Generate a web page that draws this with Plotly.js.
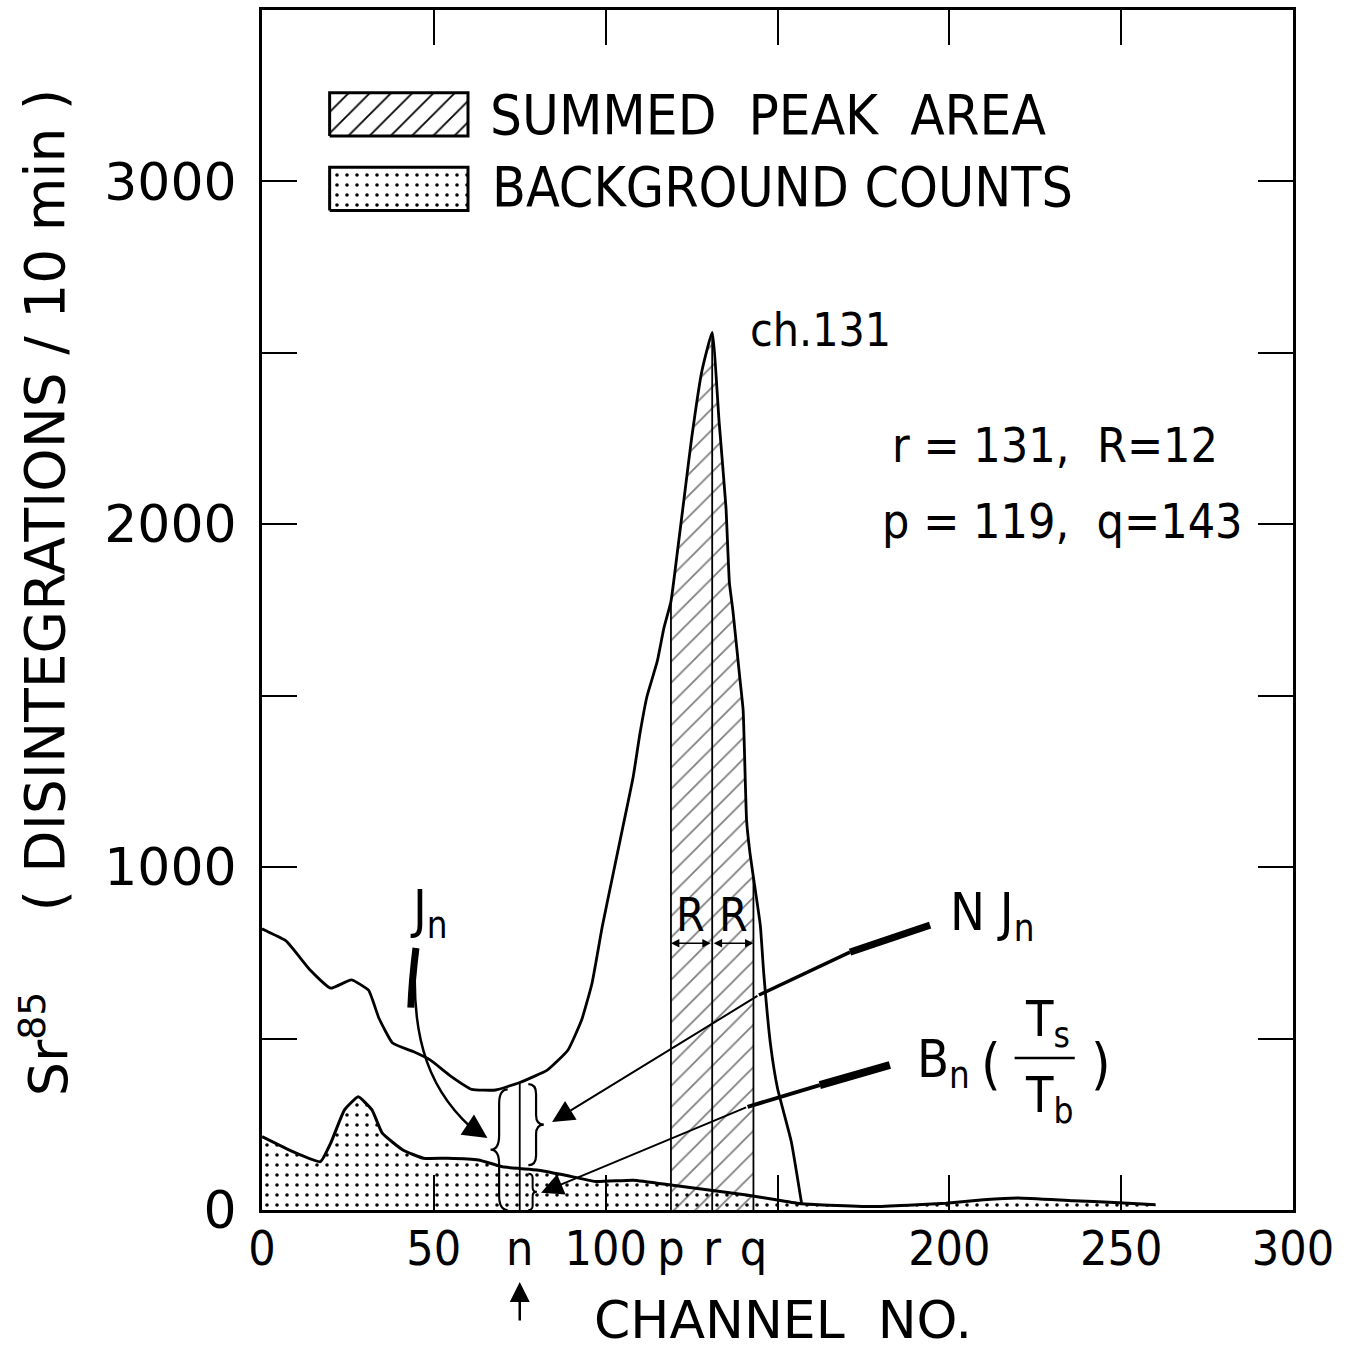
<!DOCTYPE html>
<html>
<head>
<meta charset="utf-8">
<script src="https://cdn.plot.ly/plotly-3.0.1.min.js"></script>
<style>html,body{margin:0;padding:0;background:#fff;}#chart{width:1357px;height:1349px;}</style>
</head>
<body>
<div id="chart"></div>
<script>
// ---- data ----
const channels = [0, 1, 7, 14, 20, 26, 31, 34, 38, 44, 49, 55, 61, 68, 75, 83, 89, 93, 96, 99, 102, 105, 108, 110, 112, 115, 117, 119, 121, 123, 125, 128, 131, 133, 135, 136, 137, 139, 140, 141, 142, 143, 145, 146, 148, 150, 154, 157];
const counts   = [820, 815, 785, 700, 647, 671, 641, 560, 487, 462, 437, 390, 352, 350, 372, 408, 466, 554, 660, 826, 972, 1117, 1263, 1391, 1497, 1600, 1700, 1775, 1930, 2090, 2250, 2447, 2560, 2300, 2050, 1830, 1750, 1555, 1458, 1137, 1040, 970, 830, 690, 480, 355, 200, 20];

const bgChannels = [0, 9, 17, 20, 24, 28, 32, 35, 41, 47, 54, 63, 70, 75, 80, 88, 97, 108, 119, 130, 141, 150, 157, 165, 178, 188, 199, 210, 220, 236, 248, 260];
const bgCounts   = [214, 170, 141, 195, 292, 330, 292, 224, 175, 151, 151, 146, 126, 121, 117, 102, 83, 87, 73, 58, 44, 29, 18, 14, 10, 14, 20, 30, 35, 27, 22, 15];

const chP = 119, chR = 131, chQ = 143, chN = 75;

const xTickMarks = [50, 100, 150, 200, 250];
const xLabelVals = [0, 50, 75, 100, 119, 131, 143, 200, 250, 300];
const xLabelText = ['0', '50', 'n', '100', 'p', 'r', 'q', '200', '250', '300'];
const yTickVals = [0, 500, 1000, 1500, 2000, 2500, 3000];
const yTickText = ['0', '', '1000', '', '2000', '', '3000'];

// ---- helpers ----
const FC = 'DejaVu Sans Condensed, DejaVu Sans, sans-serif';
const FR = 'DejaVu Sans, sans-serif';
const at = (xs, ys, c) => ys[xs.indexOf(c)];

const peakX = [], peakY = [];
channels.forEach((c, i) => { if (c >= chP && c <= chQ) { peakX.push(c); peakY.push(counts[i]); } });

const vx = [], vy = [];
[chP, chR, chQ, chN].forEach(c => { vx.push(c, c, null); vy.push(0, at(channels, counts, c), null); });

const SPL = { shape: 'spline', smoothing: 0.4 };
const traces = [
  { x: bgChannels, y: bgCounts, type: 'scatter', mode: 'lines', fill: 'tozeroy',
    line: Object.assign({ color: '#000', width: 3 }, SPL), fillcolor: 'rgba(0,0,0,0)',
    fillpattern: { shape: '.', size: 10, solidity: 0.1, fgcolor: '#000', bgcolor: '#fff', fillmode: 'replace' },
    hoverinfo: 'skip' },
  { x: peakX, y: peakY, type: 'scatter', mode: 'lines', fill: 'tozeroy',
    line: Object.assign({ color: '#000', width: 0 }, SPL), fillcolor: 'rgba(0,0,0,0)',
    fillpattern: { shape: '/', size: 15, solidity: 0.12, fgcolor: '#000', bgcolor: 'rgba(0,0,0,0)', fillmode: 'overlay' },
    hoverinfo: 'skip' },
  { x: channels, y: counts, type: 'scatter', mode: 'lines', line: Object.assign({ color: '#000', width: 2.8 }, SPL), hoverinfo: 'skip' },
  { x: vx, y: vy, xaxis: 'x2', type: 'scatter', mode: 'lines', line: { color: '#000', width: 1.8 }, hoverinfo: 'skip' },
  // legend swatches (in plot-fraction coordinates)
  { x: [0.0656, 0.1998, 0.1998, 0.0656, 0.0656], y: [0.895, 0.895, 0.931, 0.931, 0.895], xaxis: 'x3', yaxis: 'y3',
    type: 'scatter', mode: 'lines', fill: 'toself', line: { color: '#000', width: 3 }, fillcolor: 'rgba(0,0,0,0)',
    fillpattern: { shape: '/', size: 15, solidity: 0.12, fgcolor: '#000', bgcolor: '#fff' }, hoverinfo: 'skip' },
  { x: [0.0656, 0.1998, 0.1998, 0.0656, 0.0656], y: [0.833, 0.833, 0.869, 0.869, 0.833], xaxis: 'x3', yaxis: 'y3',
    type: 'scatter', mode: 'lines', fill: 'toself', line: { color: '#000', width: 3 }, fillcolor: 'rgba(0,0,0,0)',
    fillpattern: { shape: '.', size: 10, solidity: 0.1, fgcolor: '#000', bgcolor: '#fff' }, hoverinfo: 'skip' }
];

// curly brace path in data coords; d=+1 '{' (tip left), d=-1 '}' (tip right)
function brace(x0, yTop, yBot, w, d) {
  const h = w / 2, ym = (yTop + yBot) / 2, q = (yTop - yBot) * 0.12;
  const xa = x0 - d * h, xt = x0 - d * w;
  return `M ${x0},${yTop} Q ${xa},${yTop} ${xa},${yTop - q} L ${xa},${ym + q} Q ${xa},${ym} ${xt},${ym} ` +
         `Q ${xa},${ym} ${xa},${ym - q} L ${xa},${yBot + q} Q ${xa},${yBot} ${x0},${yBot}`;
}

const specN = at(channels, counts, chN), bgN = at(bgChannels, bgCounts, chN);

const shapes = [
  { type: 'path', xref: 'x', yref: 'y', path: brace(71.5, specN - 20, 0, 5, 1), line: { color: '#000', width: 2.2 } },
  { type: 'path', xref: 'x', yref: 'y', path: brace(77.5, specN - 5, bgN + 10, 4.5, -1), line: { color: '#000', width: 2.2 } },
  { type: 'path', xref: 'x', yref: 'y', path: brace(77.5, bgN - 15, 0, 2.5, -1), line: { color: '#000', width: 2 } },
  // Jn curved arrow body
  { type: 'path', xref: 'x', yref: 'y', path: 'M 44.8,764 C 42.8,496 48.9,335 63.5,218', line: { color: '#000', width: 2.5 } },
  { type: 'path', xref: 'x', yref: 'y', path: 'M 44.8,764 C 44,700 43.5,640 43.3,590', line: { color: '#000', width: 7 } },
  // NJn arrow thick start
  { type: 'line', xref: 'x', yref: 'y', x0: 194.4, y0: 831, x1: 171.1, y1: 752, line: { color: '#000', width: 7 } },
  { type: 'line', xref: 'x', yref: 'y', x0: 171.1, y0: 752, x1: 144.6, y1: 627, line: { color: '#000', width: 3.5 } },
  // Bn arrow thick start
  { type: 'line', xref: 'x', yref: 'y', x0: 182.7, y0: 423, x1: 162.3, y1: 364, line: { color: '#000', width: 8 } },
  { type: 'line', xref: 'x', yref: 'y', x0: 162.3, y0: 364, x1: 141.3, y1: 301, line: { color: '#000', width: 4 } },
  // fraction bar
  { type: 'line', xref: 'x', yref: 'y', x0: 219, y0: 443, x1: 236.5, y1: 443, line: { color: '#000', width: 2.5 } }
];

const ann = (o) => Object.assign({ showarrow: false, xanchor: 'center', yanchor: 'middle', font: { family: FC, size: 48, color: '#000' } }, o);

const annotations = [
  ann({ xref: 'paper', yref: 'paper', x: -0.2105, y: 0.592, text: '( DISINTEGRATIONS / 10 min )', textangle: -90, font: { family: FR, size: 55, color: '#000' } }),
  ann({ xref: 'paper', yref: 'paper', x: -0.2105, y: 0.139, text: 'Sr<sup>85</sup>', textangle: -90, font: { family: FR, size: 54, color: '#000' } }),
  ann({ xref: 'paper', yref: 'paper', x: 0.505, y: -0.0917, text: 'CHANNEL  NO.', font: { family: FR, size: 52, color: '#000' } }),
  ann({ xref: 'paper', yref: 'paper', x: 0.219, y: 0.9133, xanchor: 'left', text: 'SUMMED  PEAK  AREA', font: { family: FC, size: 56, color: '#000' } }),
  ann({ xref: 'paper', yref: 'paper', x: 0.221, y: 0.8525, xanchor: 'left', text: 'BACKGROUND COUNTS', font: { family: FC, size: 55, color: '#000' } }),
  ann({ x: 141.4, y: 2566, xanchor: 'left', text: 'ch.131', font: { family: FC, size: 46, color: '#000' } }),
  ann({ x: 182.7, y: 2230, xanchor: 'left', text: 'r = 131,  R=12', font: { family: FC, size: 48, color: '#000' } }),
  ann({ x: 179.8, y: 2011, xanchor: 'left', text: 'p = 119,  q=143', font: { family: FC, size: 48, color: '#000' } }),
  ann({ x: 124.8, y: 860, text: 'R', font: { family: FC, size: 46, color: '#000' } }),
  ann({ x: 137.3, y: 860, text: 'R', font: { family: FC, size: 46, color: '#000' } }),
  ann({ x: 42.5, y: 865, xanchor: 'left', text: 'J<sub>n</sub>', font: { family: FC, size: 52, color: '#000' } }),
  ann({ x: 199.6, y: 858, xanchor: 'left', text: 'N J<sub>n</sub>', font: { family: FC, size: 52, color: '#000' } }),
  ann({ x: 190, y: 430, xanchor: 'left', text: 'B<sub>n</sub>', font: { family: FC, size: 52, color: '#000' } }),
  ann({ x: 212, y: 428, text: '(', font: { family: FC, size: 56, color: '#000' } }),
  ann({ x: 244, y: 428, text: ')', font: { family: FC, size: 56, color: '#000' } }),
  ann({ x: 228.5, y: 548, text: 'T<sub>s</sub>', font: { family: FC, size: 50, color: '#000' } }),
  ann({ x: 229, y: 326, text: 'T<sub>b</sub>', font: { family: FC, size: 50, color: '#000' } }),
  // arrowheads
  { x: 65.6, y: 210, xref: 'x', yref: 'y', ax: -18, ay: -12, text: '', showarrow: true, arrowhead: 2, arrowsize: 2.2, arrowwidth: 2.2, arrowcolor: '#000' },
  { x: 84.4, y: 257, xref: 'x', yref: 'y', axref: 'x', ayref: 'y', ax: 144.6, ay: 627, text: '', showarrow: true, arrowhead: 2, arrowsize: 2.2, arrowwidth: 2, arrowcolor: '#000' },
  { x: 81.2, y: 50, xref: 'x', yref: 'y', axref: 'x', ayref: 'y', ax: 141.3, ay: 301, text: '', showarrow: true, arrowhead: 2, arrowsize: 2.2, arrowwidth: 2, arrowcolor: '#000' },
  // R double arrows
  { x: chP, y: 778, xref: 'x', yref: 'y', axref: 'x', ayref: 'y', ax: chR, ay: 778, text: '', showarrow: true, arrowhead: 2, startarrowhead: 2, arrowside: 'end+start', arrowsize: 1.2, arrowwidth: 1.4, arrowcolor: '#000' },
  { x: chQ, y: 778, xref: 'x', yref: 'y', axref: 'x', ayref: 'y', ax: chR, ay: 778, text: '', showarrow: true, arrowhead: 2, startarrowhead: 2, arrowside: 'end+start', arrowsize: 1.2, arrowwidth: 1.4, arrowcolor: '#000' },
  // n marker arrow below axis
  { x: chN, y: -0.06, xref: 'x', yref: 'paper', ax: 0, ay: 40, text: '', showarrow: true, arrowhead: 2, arrowsize: 1.6, arrowwidth: 2.5, arrowcolor: '#000' }
];

const layout = {
  width: 1357, height: 1349,
  margin: { l: 262, r: 64, t: 10, b: 139 },
  paper_bgcolor: '#fff', plot_bgcolor: '#fff',
  showlegend: false,
  xaxis: { range: [0, 300], tickvals: xTickMarks, showticklabels: false, ticks: 'inside', ticklen: 35, tickwidth: 2, tickcolor: '#000',
           showline: true, linewidth: 3, linecolor: '#000', mirror: 'ticks', showgrid: false, zeroline: false, fixedrange: true },
  xaxis2: { overlaying: 'x', side: 'bottom', range: [0, 300], tickmode: 'array', tickvals: xLabelVals, ticktext: xLabelText, ticks: '',
            showline: false, showgrid: false, zeroline: false, ticklabelstandoff: 6,
            tickfont: { family: FC, size: 48, color: '#000' }, fixedrange: true },
  yaxis: { range: [0, 3500], tickmode: 'array', tickvals: yTickVals, ticktext: yTickText, ticks: 'inside', ticklen: 35, tickwidth: 2, tickcolor: '#000',
           showline: true, linewidth: 3, linecolor: '#000', mirror: 'ticks', showgrid: false, zeroline: false, ticklabelstandoff: 12,
           tickfont: { family: FR, size: 52, color: '#000' }, fixedrange: true },
  xaxis3: { overlaying: 'x', range: [0, 1], visible: false, fixedrange: true },
  yaxis3: { overlaying: 'y', range: [0, 1], visible: false, fixedrange: true },
  shapes: shapes,
  annotations: annotations
};

traces[4].yaxis = 'y3'; traces[5].yaxis = 'y3';
Plotly.newPlot('chart', traces, layout, { staticPlot: true });
</script>
</body>
</html>
